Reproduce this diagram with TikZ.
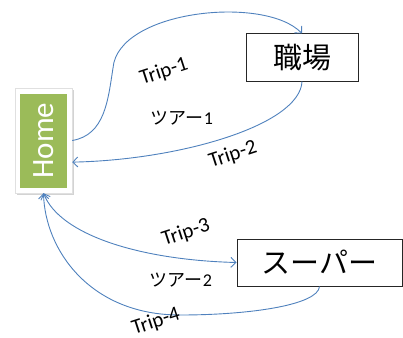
\documentclass[tikz,border=0pt]{standalone}
\usepackage{fontspec}
\setmainfont{Carlito}
\newfontfamily\jafont{Noto Sans CJK JP}
\usetikzlibrary{arrows.meta,shadows}
\definecolor{tripblue}{HTML}{4F81BD}
\definecolor{homegreen}{HTML}{9BBB59}

\begin{document}
\begin{tikzpicture}[x=1pt, y=-1pt, >={Straight Barb[length=5pt,width=10pt]},
    trip/.style={draw=tripblue, line width=0.9pt},
    place/.style={draw=black!85, line width=1pt, fill=white, minimum height=47pt, inner sep=0pt,
      font=\fontsize{29}{34}\selectfont\jafont},
    lbl/.style={font=\fontsize{21}{24}\selectfont, rotate=18, inner sep=0pt},
    tourlbl/.style={font=\fontsize{18}{21}\selectfont, inner sep=0pt}]
  \useasboundingbox (0, 0) rectangle (403, 337);

  % places
  \node[draw=black!12, fill=white, minimum width=57pt, minimum height=105pt,
    drop shadow={shadow xshift=1.5pt, shadow yshift=-1.5pt, opacity=0.35}] (homebox) at (43.5, 140.5) {};
  \node[fill=homegreen, minimum width=47pt, minimum height=94pt, text=white,
    font=\fontsize{31}{36}\selectfont] (home) at (homebox) {\rotatebox{90}{Home}};
  \node[place, minimum width=112pt] (work) at (302, 57.5) {職場};
  \node[place, minimum width=165pt] (super) at (319.5, 262.5) {スーパー};

  % trips
  \draw[trip, ->] (homebox.east) .. controls (105, 135) and (108, 100) .. (113, 68)
    .. controls (118, 10) and (265, -5) .. (work.north);
  \draw[trip, ->] (work.south) .. controls (300, 125) and (180, 160) .. (homebox.-37);
  \draw[trip, <->] (homebox.south) .. controls (60, 235) and (140, 260) .. (super.west);
  \draw[trip, ->] (super.south) .. controls (318, 305) and (250, 315) .. (180, 315)
    .. controls (90, 315) and (45, 250) .. (homebox.south);

  % labels
  \node[lbl] (trip1) at (164, 72) {Trip-1};
  \node[tourlbl] (tour1) at (182, 118) {{\jafont ツアー}1};
  \node[lbl] (trip2) at (233, 155) {Trip-2};
  \node[lbl] (trip3) at (186, 233) {Trip-3};
  \node[tourlbl] (tour2) at (181, 280) {{\jafont ツアー}2};
  \node[lbl] (trip4) at (156, 322) {Trip-4};
\end{tikzpicture}
\end{document}
